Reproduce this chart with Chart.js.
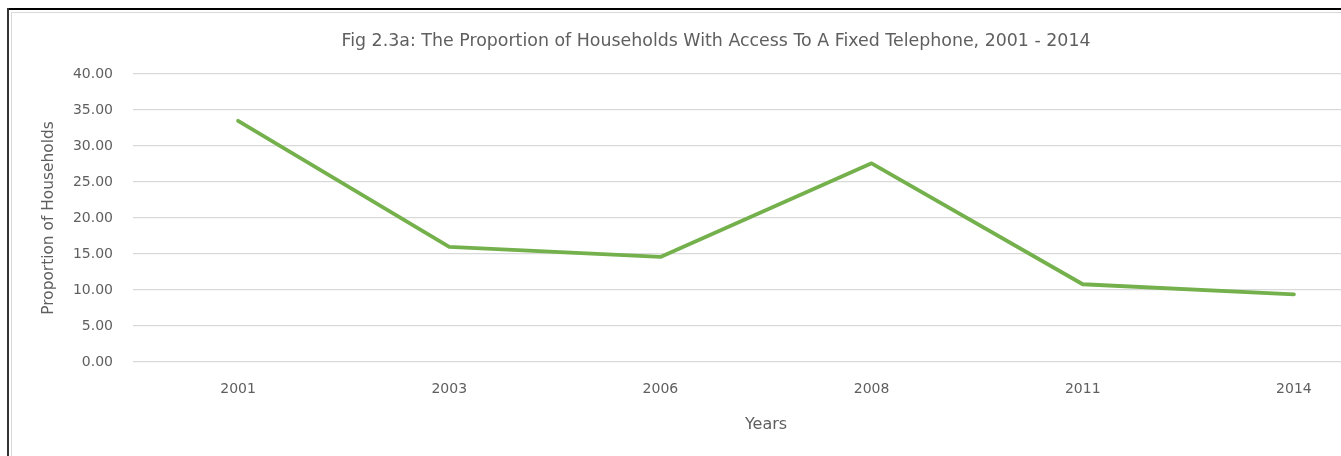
<!DOCTYPE html>
<html>
<head>
<meta charset="utf-8">
<script src="https://cdn.jsdelivr.net/npm/chart.js@4.4.1/dist/chart.umd.min.js"></script>
<style>
  html, body { margin: 0; padding: 0; background: #fff; overflow: hidden; width: 1341px; height: 456px; }
  #outerTop { position: absolute; left: 7px; top: 8px; width: 1400px; height: 2px; background: #000; }
  #outerLeft { position: absolute; left: 7px; top: 8px; width: 2px; height: 460px; background: #333; }
  #frame { position: absolute; left: 11px; top: 12px; width: 1410px; height: 460px; border-left: 1px solid #d9d9d9; border-top: 1px solid #d9d9d9; box-sizing: border-box; }
  #wrap { position: absolute; left: 11px; top: 12px; width: 1410px; height: 444px; }
</style>
</head>
<body>
<div id="outerTop"></div>
<div id="outerLeft"></div>
<div id="frame"></div>
<div id="wrap"><canvas id="c" width="1410" height="444"></canvas></div>
<script>
const categories = ["2001", "2003", "2006", "2008", "2011", "2014"];
const proportionValues = [33.5, 16.0, 14.6, 27.6, 10.8, 9.4];
const yTicks = [0, 5, 10, 15, 20, 25, 30, 35, 40];
const chartTitle = "Fig 2.3a: The Proportion of Households With Access To A Fixed Telephone, 2001 - 2014";
const xTitle = "Years";
const yTitle = "Proportion of Households";

const FONT = "'DejaVu Sans', sans-serif";
const GREY = "#5f5f5f";

new Chart(document.getElementById('c'), {
  type: 'line',
  data: {
    labels: categories,
    datasets: [{
      data: proportionValues,
      borderColor: '#74B04C',
      borderWidth: 3.8,
      pointRadius: 0,
      pointHoverRadius: 0,
      tension: 0,
      fill: false,
      borderCapStyle: 'round',
      borderJoinStyle: 'round'
    }]
  },
  options: {
    responsive: false,
    animation: false,
    events: [],
    layout: { padding: { left: 21.5, right: 21.5, top: 0, bottom: 0 } },
    plugins: {
      legend: { display: false },
      tooltip: { enabled: false },
      title: {
        display: true,
        text: chartTitle,
        color: GREY,
        font: { family: FONT, size: 17.4, weight: 'normal', lineHeight: 1.2 },
        padding: { top: 19.4, bottom: 21.8 }
      }
    },
    scales: {
      x: {
        type: 'category',
        offset: true,
        grid: { display: false, drawTicks: false },
        border: { display: false },
        ticks: { color: GREY, font: { family: FONT, size: 14, lineHeight: 1.2 }, padding: 18.6, maxRotation: 0 },
        title: { display: true, text: xTitle, color: GREY, font: { family: FONT, size: 16, lineHeight: 1.2 }, padding: { top: 0, bottom: 21.4 } },
        afterFit: (s) => { s.height = 94; }
      },
      y: {
        min: 0,
        max: 40,
        afterBuildTicks: (s) => { s.ticks = yTicks.map(v => ({ value: v })); },
        grid: { color: '#D9D9D9', lineWidth: 1.3, drawTicks: false },
        border: { display: false },
        ticks: { color: GREY, font: { family: FONT, size: 14 }, padding: 19.5, callback: (v) => Number(v).toFixed(2) },
        title: { display: true, text: yTitle, color: GREY, font: { family: FONT, size: 15.4, lineHeight: 1.2 }, padding: { top: 7.3, bottom: 0 } },
        afterFit: (s) => { s.width = 100; }
      }
    }
  }
});
</script>
</body>
</html>
